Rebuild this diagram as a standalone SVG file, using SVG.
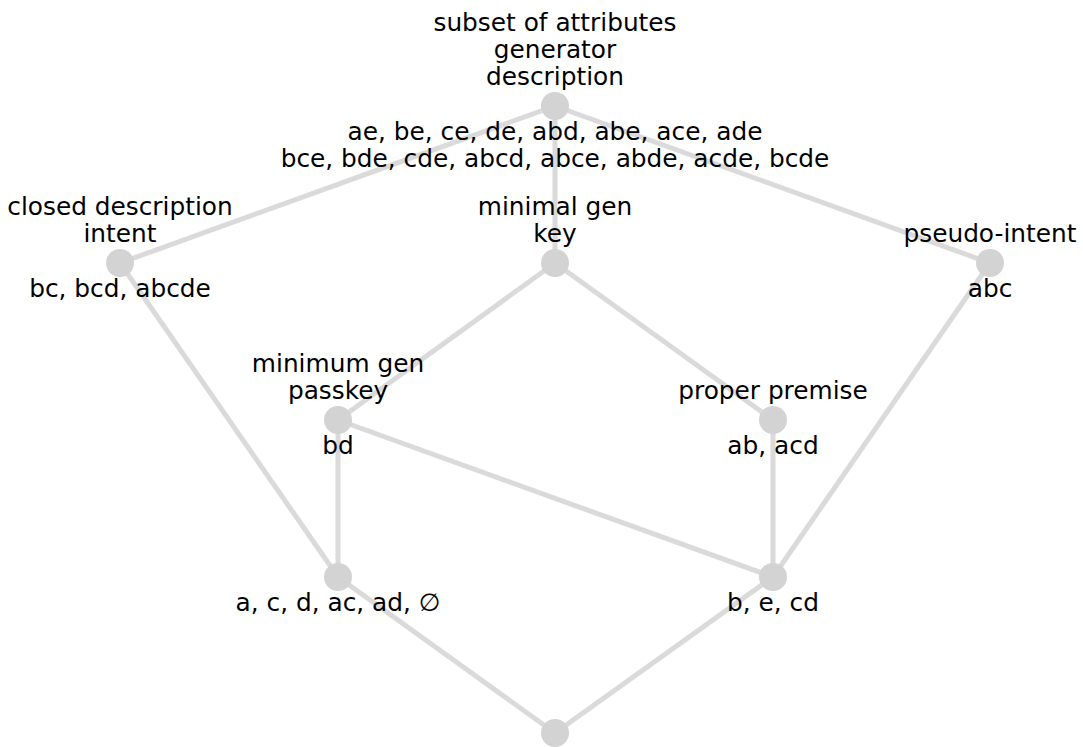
<svg xmlns="http://www.w3.org/2000/svg" width="1083" height="747" viewBox="0 0 1083 747">
<style>
.e{stroke:#dadada;stroke-width:5;fill:none}
.n{fill:#d3d3d3}
text{font-family:"DejaVu Sans",sans-serif;font-size:24.8px;fill:#000;text-anchor:middle}
</style>
<rect width="1083" height="747" fill="#fff"/>
<g id="connectors">
<line class="e" x1="555" y1="106" x2="120" y2="263"/>
<line class="e" x1="555" y1="106" x2="555" y2="263"/>
<line class="e" x1="555" y1="106" x2="990" y2="263"/>
<line class="e" x1="120" y1="263" x2="338" y2="577"/>
<line class="e" x1="555" y1="263" x2="338" y2="420"/>
<line class="e" x1="555" y1="263" x2="773" y2="420"/>
<line class="e" x1="990" y1="263" x2="773" y2="577"/>
<line class="e" x1="338" y1="420" x2="338" y2="577"/>
<line class="e" x1="338" y1="420" x2="773" y2="577"/>
<line class="e" x1="773" y1="420" x2="773" y2="577"/>
<line class="e" x1="338" y1="577" x2="555" y2="733"/>
<line class="e" x1="773" y1="577" x2="555" y2="733"/>
</g>
<g id="n-top">
<circle class="n" cx="555" cy="106" r="14"/>
<text x="555" y="31">subset of attributes</text>
<text x="555" y="58">generator</text>
<text x="555" y="85">description</text>
<text x="555" y="140">ae, be, ce, de, abd, abe, ace, ade</text>
<text x="555" y="167">bce, bde, cde, abcd, abce, abde, acde, bcde</text>
</g>
<g id="n-closed">
<circle class="n" cx="120" cy="263" r="14"/>
<text x="120" y="215">closed description</text>
<text x="120" y="242">intent</text>
<text x="120" y="297">bc, bcd, abcde</text>
</g>
<g id="n-minimal">
<circle class="n" cx="555" cy="263" r="14"/>
<text x="555" y="215">minimal gen</text>
<text x="555" y="242">key</text>
</g>
<g id="n-pseudo">
<circle class="n" cx="990" cy="263" r="14"/>
<text x="990" y="242">pseudo-intent</text>
<text x="990" y="297">abc</text>
</g>
<g id="n-minimum">
<circle class="n" cx="338" cy="420" r="14"/>
<text x="338" y="372">minimum gen</text>
<text x="338" y="399">passkey</text>
<text x="338" y="454">bd</text>
</g>
<g id="n-proper">
<circle class="n" cx="773" cy="420" r="14"/>
<text x="773" y="399">proper premise</text>
<text x="773" y="454">ab, acd</text>
</g>
<g id="n-acd">
<circle class="n" cx="338" cy="577" r="14"/>
<text x="338" y="611">a, c, d, ac, ad, ∅</text>
</g>
<g id="n-becd">
<circle class="n" cx="773" cy="577" r="14"/>
<text x="773" y="611">b, e, cd</text>
</g>
<g id="n-bottom">
<circle class="n" cx="555" cy="733" r="14"/>
</g>
</svg>
